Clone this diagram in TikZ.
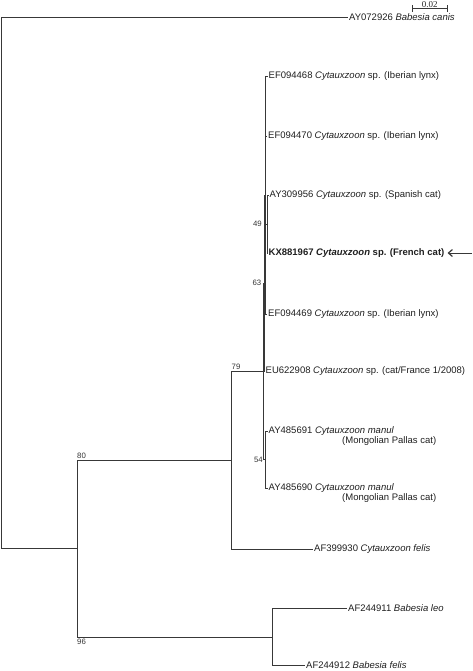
\documentclass[tikz,border=0pt]{standalone}
\usepackage{fontspec}
\setmainfont{Liberation Sans}
\newfontfamily\barserif{Liberation Serif}
\usetikzlibrary{arrows.meta}
\begin{document}
\begin{tikzpicture}[x=1pt,y=-1pt,
  br/.style={draw=black!78, line width=0.9pt},
  tip/.style={anchor=west, inner sep=1pt, font=\fontsize{9.5}{10}\selectfont, text=black!88},
  boot/.style={inner sep=0.5pt, font=\fontsize{7.8}{8}\selectfont, text=black!80},
]
\useasboundingbox (0,0) rectangle (473,671);
% internal nodes
\coordinate (root) at (1,283.3);
\coordinate (nL)   at (77,548.6);
\coordinate (n80)  at (231,460.2);
\coordinate (n96)  at (272,637);
\coordinate (n79)  at (263,371.4);
\coordinate (n63)  at (264,283);
\coordinate (nR)   at (265.2,195);
\coordinate (n49)  at (267,224);
\coordinate (n54)  at (265.5,459.8);
% tips
\node[tip] (canis) at (348,17.5) {AY072926 \textit{Babesia canis}};
\node[tip] (t468) at (267.5,76) {EF094468 \textit{Cytauxzoon} sp. (Iberian lynx)};
\node[tip] (t470) at (267,136) {EF094470 \textit{Cytauxzoon} sp. (Iberian lynx)};
\node[tip] (t956) at (268.5,195) {AY309956 \textit{Cytauxzoon} sp. (Spanish cat)};
\node[tip] (tkx)  at (267.5,253) {\textbf{KX881967 \textit{Cytauxzoon} sp. (French cat)}};
\node[tip] (t469) at (267,314) {EF094469 \textit{Cytauxzoon} sp. (Iberian lynx)};
\node[tip] (teu)  at (264.5,371) {EU622908 \textit{Cytauxzoon} sp. (cat/France 1/2008)};
\node[tip] (t691) at (267.5,431) {AY485691 \textit{Cytauxzoon manul}};
\node[tip] (t691b) at (341,441) {(Mongolian Pallas cat)};
\node[tip] (t690) at (267.5,488.5) {AY485690 \textit{Cytauxzoon manul}};
\node[tip] (t690b) at (341,498.5) {(Mongolian Pallas cat)};
\node[tip] (cfel) at (313,549) {AF399930 \textit{Cytauxzoon felis}};
\node[tip] (bleo) at (347,608.5) {AF244911 \textit{Babesia leo}};
\node[tip] (bfel) at (305,665.5) {AF244912 \textit{Babesia felis}};
% branches
\draw[br] (root) |- (canis.west);
\draw[br] (root) |- (nL);
\draw[br] (nL) |- (n80);
\draw[br] (nL) |- (n96);
\draw[br] (n96) |- (bleo.west);
\draw[br] (n96) |- (bfel.west);
\draw[br] (n80) |- (n79);
\draw[br] (n80) |- (cfel.west);
\draw[br] (n79) |- (n63);
\draw[br] (n79) |- (n54);
\draw[br] (n54) |- (t691.west);
\draw[br] (n54) |- (t690.west);
\draw[br] (n63) |- (nR);
\draw[br] (n63) |- (teu.west);
\draw[br] (nR) |- (t468.west);
\draw[br] (nR) |- (t470.west);
\draw[br] (nR) |- (n49);
\draw[br] (nR) |- (t469.west);
\draw[br] (n49) |- (t956.west);
\draw[br] (n49) |- (tkx.west);
% bootstrap values
\node[boot, anchor=east] (b49) at (262.5,224) {49};
\node[boot, anchor=east] (b63) at (262,283) {63};
\node[boot, anchor=east] (b54) at (263.5,460) {54};
\node[boot, anchor=south west] (b79) at (231,370) {79};
\node[boot, anchor=south west] (b80) at (76.5,459) {80};
\node[boot, anchor=north west] (b96) at (76.5,638) {96};
% arrow
\coordinate (arr) at (472,253);
\draw[br, -{Straight Barb[length=4pt,width=7pt,line width=1.2pt]}] (arr) -- ([xshift=2pt]tkx.east);
% scale bar
\coordinate (sb1) at (412,8.5);
\coordinate (sb2) at (447.5,8.5);
\draw[br] (sb1) -- (sb2);
\draw[br] ([yshift=-3.5pt]sb1) -- ([yshift=3pt]sb1);
\draw[br] ([yshift=-3.5pt]sb2) -- ([yshift=3pt]sb2);
\node[inner sep=0pt, anchor=south, font=\barserif\fontsize{9}{9}\selectfont, text=black!85] (sbl) at (429.8,7.6) {0.02};
\end{tikzpicture}
\end{document}
